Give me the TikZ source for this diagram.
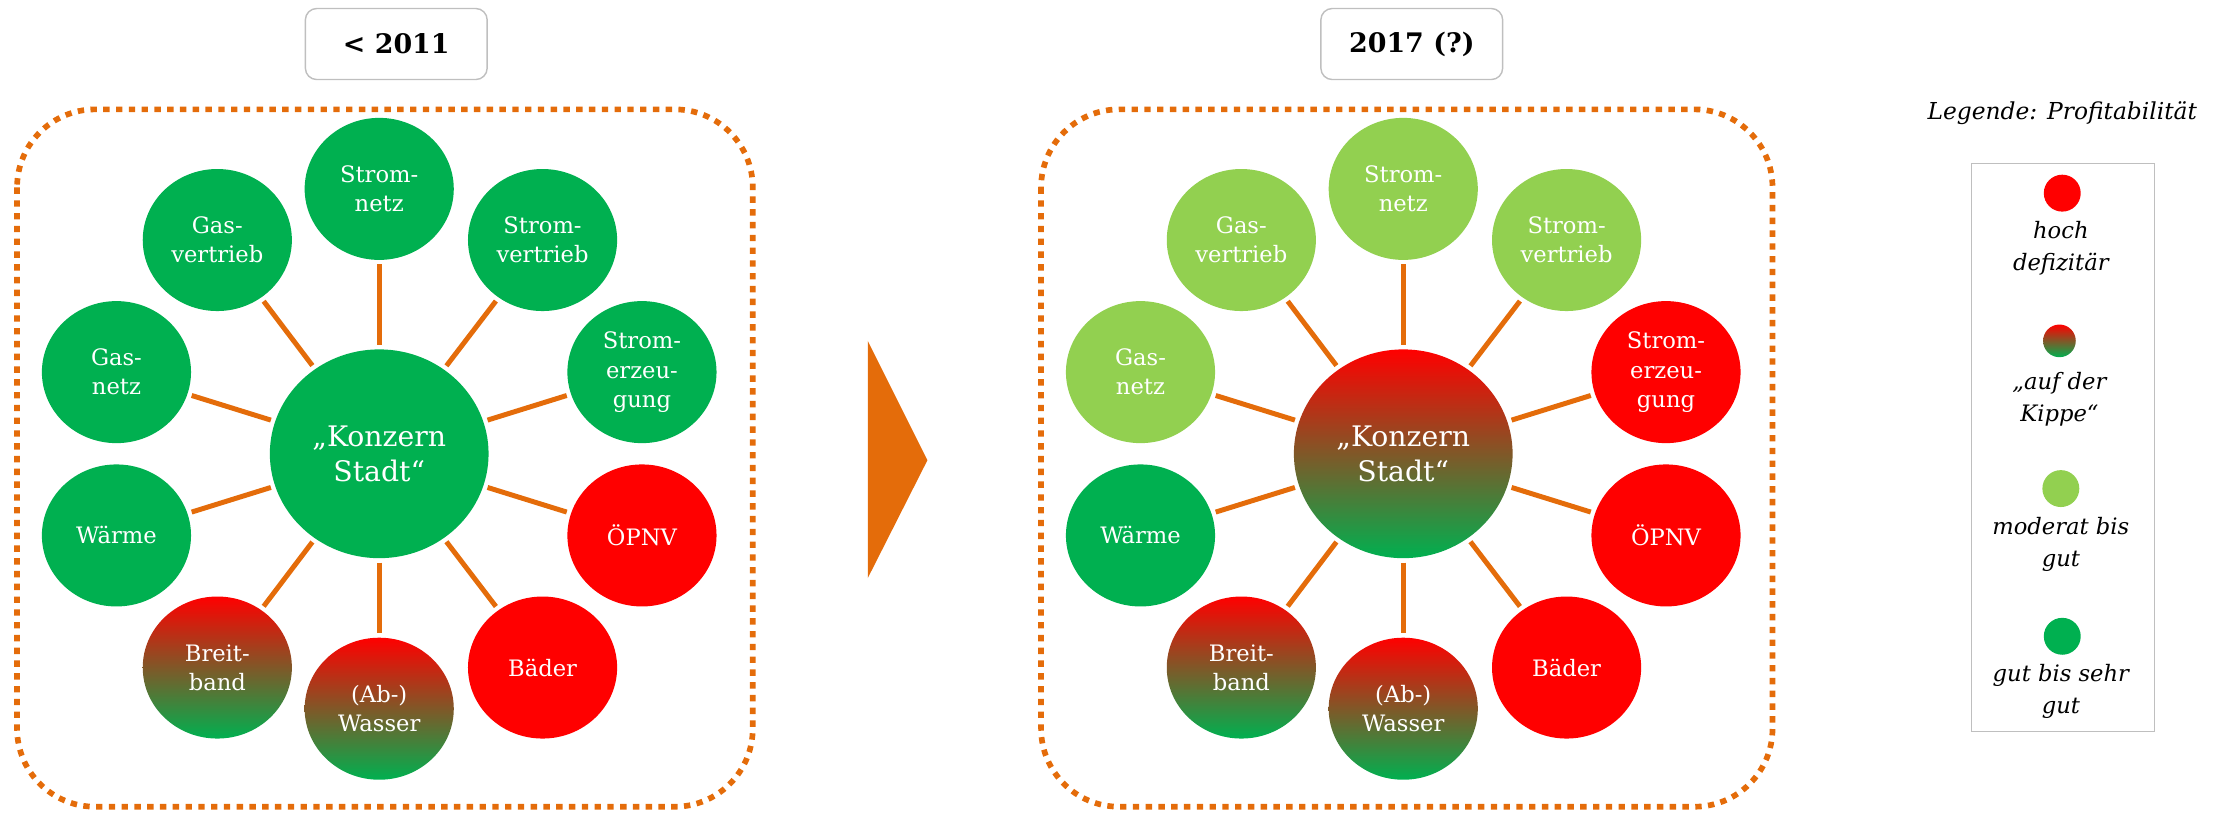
\documentclass[tikz,border=0pt]{standalone}
\usepackage{fontspec}
\setmainfont{DejaVu Serif}
\usetikzlibrary{shapes.geometric}
\definecolor{orng}{HTML}{E46C0A}
\definecolor{grn}{HTML}{00B050}
\definecolor{lgrn}{HTML}{92D050}
\definecolor{rd}{HTML}{FF0000}
\definecolor{boxgray}{HTML}{BFBFBF}
\begin{document}
\begin{tikzpicture}[x=1bp,y=-1bp,
  sat/.style={ellipse,minimum width=105bp,minimum height=100bp,inner sep=0pt,text=white,align=center,font=\fontsize{16}{20.5}\selectfont},
  hub/.style={ellipse,minimum width=154bp,minimum height=147bp,inner sep=0pt,text=white,align=center,font=\fontsize{20}{25}\selectfont},
  good/.style={fill=grn},
  moder/.style={fill=lgrn},
  bad/.style={fill=rd},
  kipp/.style={top color=rd,bottom color=grn},
  spoke/.style={draw=orng,line width=3.5bp,shorten <=3bp,shorten >=3bp},
  dotbox/.style={draw=orng,line width=4bp,dash pattern=on 4.5bp off 4.5bp,rounded corners=55bp},
  titlebox/.style={draw=boxgray,line width=1bp,rounded corners=8bp,minimum width=128bp,minimum height=50bp,font=\fontsize{19}{23}\selectfont\bfseries},
  legdot/.style={circle,minimum size=26bp,inner sep=0pt},
  legtext/.style={align=center,font=\fontsize{16}{22.6}\selectfont\itshape}
]
\useasboundingbox (0,0) rectangle (1568,572);

% titles
\node[titlebox] (tA) at (279,31) {< 2011};
\node[titlebox] (tB) at (994,31) {2017 (?)};

% dotted frames
\draw[dotbox] (12,77) rectangle (530,568);
\draw[dotbox] (733,77) rectangle (1248,568);

% ---------- left cluster ----------
\node[hub,good] (kA) at (267,319.5) {„Konzern\\Stadt“};
\node[sat,good] (a1) at (267,133) {Strom-\\netz};
\node[sat,good] (a2) at (382,169) {Strom-\\vertrieb};
\node[sat,good] (a3) at (452,262) {Strom-\\erzeu-\\gung};
\node[sat,bad]  (a4) at (452,377) {ÖPNV};
\node[sat,bad]  (a5) at (382,470) {Bäder};
\node[sat,kipp] (a6) at (267,499) {(Ab-)\\Wasser};
\node[sat,kipp] (a7) at (153,470) {Breit-\\band};
\node[sat,good] (a8) at (82,377) {Wärme};
\node[sat,good] (a9) at (82,262) {Gas-\\netz};
\node[sat,good] (a10) at (153,169) {Gas-\\vertrieb};
\foreach \i in {1,...,10} \draw[spoke] (kA) -- (a\i);

% ---------- right cluster ----------
\node[hub,kipp] (kB) at (988,319.5) {„Konzern\\Stadt“};
\node[sat,moder] (b1) at (988,133) {Strom-\\netz};
\node[sat,moder] (b2) at (1103,169) {Strom-\\vertrieb};
\node[sat,bad]   (b3) at (1173,262) {Strom-\\erzeu-\\gung};
\node[sat,bad]   (b4) at (1173,377) {ÖPNV};
\node[sat,bad]   (b5) at (1103,470) {Bäder};
\node[sat,kipp]  (b6) at (988,499) {(Ab-)\\Wasser};
\node[sat,kipp]  (b7) at (874,470) {Breit-\\band};
\node[sat,good]  (b8) at (803,377) {Wärme};
\node[sat,moder] (b9) at (803,262) {Gas-\\netz};
\node[sat,moder] (b10) at (874,169) {Gas-\\vertrieb};
\foreach \i in {1,...,10} \draw[spoke] (kB) -- (b\i);

% arrow
\fill[orng] (611,240) -- (653,324) -- (611,407) -- cycle;

% legend
\node[legtext,font=\fontsize{16.5}{20}\selectfont\itshape] (lt) at (1452,80) {Legende: Profitabilität};
\draw[draw=boxgray,line width=1bp] (1388,115) rectangle (1517,515);
\node[legdot,bad]   (l1) at (1452,136) {};
\node[legtext]      (l1t) at (1451,175) {hoch\\defizitär};
\node[legdot,kipp,minimum size=23bp] (l2) at (1450,240) {};
\node[legtext]      (l2t) at (1450,281) {„auf der\\Kippe“};
\node[legdot,moder] (l3) at (1451,344) {};
\node[legtext]      (l3t) at (1451,383) {moderat bis\\gut};
\node[legdot,good]  (l4) at (1452,448) {};
\node[legtext]      (l4t) at (1451,487) {gut bis sehr\\gut};
\end{tikzpicture}
\end{document}
